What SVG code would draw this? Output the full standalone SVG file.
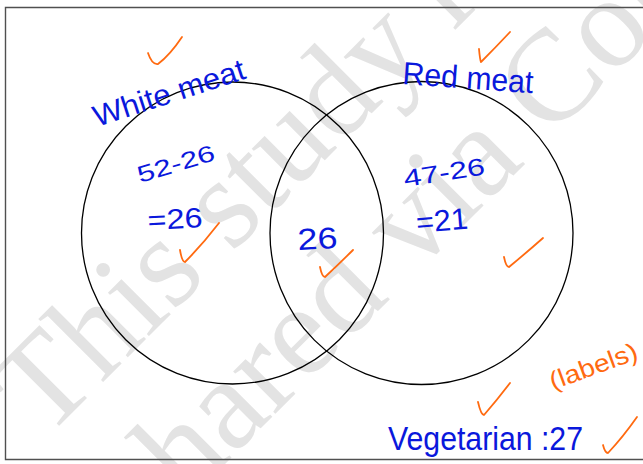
<svg xmlns="http://www.w3.org/2000/svg" width="643" height="464" viewBox="0 0 643 464">
<style>
.wm{font-family:"Liberation Serif","Times New Roman",serif;font-size:130px;fill:#e3e3e3}
.hw{font-family:"Liberation Sans",Arial,sans-serif;fill:#0a18dc}
.or{font-family:"Liberation Sans",Arial,sans-serif;fill:#ff6a10}
.ck{fill:none;stroke:#ff6a10;stroke-width:1.8;stroke-linecap:round;stroke-linejoin:round}
.ring{fill:none;stroke:#000;stroke-width:1.3}
</style>
<rect width="643" height="464" fill="#fff"/>
<g id="watermark">
<text class="wm" x="45" y="440" transform="rotate(-45 45 440)">This study resource was</text>
<text class="wm" x="151" y="538" transform="rotate(-45 151 538)">shared via CourseHero.com</text>
</g>
<g id="frame"><path d="M700 7.5H5.5V459.5H700" fill="none" stroke="#505050" stroke-width="1.4"/></g>
<g id="white-meat">
<circle class="ring" cx="232.5" cy="233" r="151"/>
<text class="hw" x="97" y="127" font-size="30" textLength="158" lengthAdjust="spacingAndGlyphs" transform="rotate(-18 97 127)">White meat</text>
<text class="hw" x="140" y="183" font-size="23" textLength="80" lengthAdjust="spacingAndGlyphs" transform="rotate(-17 140 183)">52-26</text>
<text class="hw" x="148" y="230" font-size="28" textLength="55" lengthAdjust="spacingAndGlyphs" transform="rotate(-3 148 230)">=26</text>
</g>
<g id="red-meat">
<circle class="ring" cx="421.5" cy="233" r="151.5"/>
<text class="hw" x="402" y="84" font-size="32" textLength="131" lengthAdjust="spacingAndGlyphs" transform="rotate(4 402 84)">Red meat</text>
<text class="hw" x="405" y="187" font-size="24" textLength="82" lengthAdjust="spacingAndGlyphs" transform="rotate(-9 405 187)">47-26</text>
<text class="hw" x="417" y="233" font-size="30" textLength="52" lengthAdjust="spacingAndGlyphs" transform="rotate(-5 417 233)">=21</text>
</g>
<g id="both">
<text class="hw" x="298" y="250" font-size="30" textLength="40" lengthAdjust="spacingAndGlyphs" transform="rotate(-3 298 250)">26</text>
</g>
<g id="vegetarian">
<text class="hw" x="388" y="450" font-size="34" textLength="195" lengthAdjust="spacingAndGlyphs">Vegetarian :27</text>
<text class="or" x="553" y="390" font-size="25" textLength="92" lengthAdjust="spacingAndGlyphs" transform="rotate(-20 553 390)">(labels)</text>
</g>
<g id="checkmarks">
<path class="ck" d="M148 53Q152 65 158 64Q170 55 182 37"/>
<path class="ck" d="M479 49Q480 60 481 62Q495 48 510 32"/>
<path class="ck" d="M180 250Q182 262 185 262Q202 245 219 223"/>
<path class="ck" d="M320 267Q322 277 325 277Q340 263 353 250"/>
<path class="ck" d="M504 257Q506 267 509 267Q526 253 543 238"/>
<path class="ck" d="M478 402Q481 415 484 415Q497 400 510 383"/>
<path class="ck" d="M603 445Q605 453 608 453Q623 437 637 417"/>
</g>
</svg>
